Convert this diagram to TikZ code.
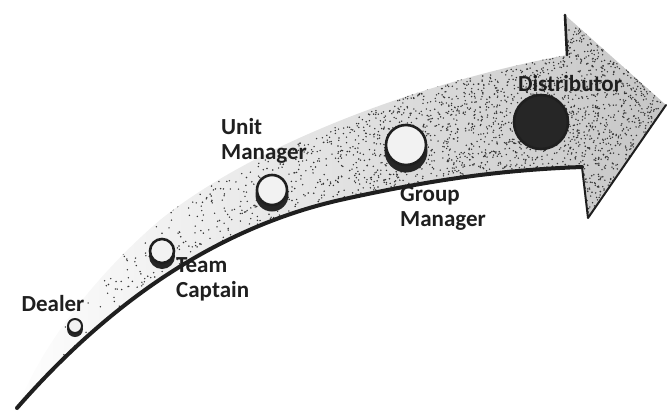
\documentclass[tikz,border=0pt]{standalone}
\usepackage{fontspec}
\setmainfont{Carlito}
\begin{document}
\begin{tikzpicture}[x=1pt,y=-1pt,
  lbl/.style={font=\fontsize{23}{25}\selectfont\bfseries, align=left, inner sep=0pt, text=black!88},
  stage/.style={circle, draw=black!88, line width=2.6pt, fill=gray!10, inner sep=0pt},
  shadowdot/.style={fill=black!85},
  edgeline/.style={draw=black!88, line cap=round, line join=round}
]
\useasboundingbox (0,0) rectangle (667,410);
% stippled body of the arrow
\begin{scope}
  \clip (17,408) .. controls (120,290) and (230,225) .. (340,200)
        .. controls (430,180) and (500,170) .. (582,167)
        -- (588,218) -- (666,105) -- (565,15) -- (567,55)
        .. controls (430,80) and (260,140) .. (160,220)
        .. controls (90,280) and (40,350) .. (17,408) -- cycle;
  \shade[left color=white, right color=gray!45] (0,0) rectangle (667,410);
  \pgfmathsetseed{7}
  \foreach \i in {1,...,5000}{
    \pgfmathsetmacro\ux{rnd}
    \pgfmathsetmacro\dx{17+650*sqrt(\ux)}
    \pgfmathsetmacro\dy{410-315*pow(sqrt(\ux),0.8)+210*(rnd-0.5)}
    \fill[black!80] (\dx,\dy) circle[radius=0.8];
  }
\end{scope}
% edges of the arrow
\draw[edgeline, line width=4pt] (17,408) .. controls (120,290) and (230,225) .. (340,200)
        .. controls (430,180) and (500,170) .. (582,167);
\draw[edgeline, line width=2pt] (582,167) -- (588,218) -- (666,105);
\draw[edgeline, line width=2.6pt] (565,15) -- (567,55);
% stages
\fill[shadowdot] (75,329) circle[radius=8];
\node[stage, minimum size=14pt, line width=2pt] (dealer) at (75,326) {};
\fill[shadowdot] (162,256) circle[radius=13];
\node[stage, minimum size=24pt] (team) at (162,251) {};
\fill[shadowdot] (272,195) circle[radius=16.5];
\node[stage, minimum size=30pt] (unit) at (272,190) {};
\fill[shadowdot] (406,151) circle[radius=21.5];
\node[stage, minimum size=40pt] (group) at (406,145) {};
\node[stage, minimum size=54pt, fill=black!85] (dist) at (541,122) {};
% labels
\node[lbl] (ldealer) at (53,304) {Dealer};
\node[lbl, anchor=west] (lteam) at (176,279) {Team\\Captain};
\node[lbl, anchor=west] (lunit) at (221,141) {Unit\\Manager};
\node[lbl, anchor=west] (lgroup) at (400,208) {Group\\Manager};
\node[lbl] (ldist) at (570,84) {Distributor};
\end{tikzpicture}
\end{document}
